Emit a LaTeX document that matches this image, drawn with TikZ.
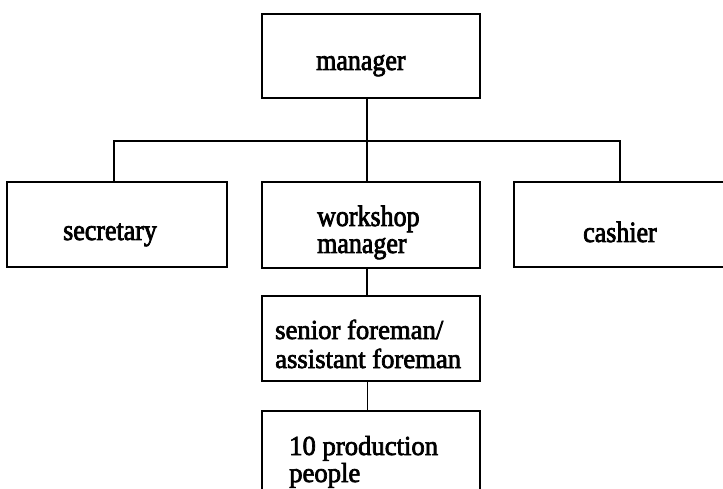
\documentclass[tikz,border=0pt]{standalone}
\usepackage{fontspec}
\setmainfont{Liberation Serif}[FakeBold=2.5]
\newfontfamily\upperfont{Liberation Serif}[FakeBold=2.5, FakeStretch=0.88]
\newfontfamily\lowerfont{Liberation Serif}[FakeBold=2.5, FakeStretch=0.97]
\begin{document}
\begin{tikzpicture}[x=1pt,y=-1pt,
  box/.style={draw, line width=1.4pt, inner sep=0pt, minimum width=218pt},
  lbl/.style={anchor=base west, inner sep=0pt, font=\upperfont\fontsize{29.5}{29.5}\selectfont},
  lbllow/.style={anchor=base west, inner sep=0pt, font=\lowerfont\fontsize{27.5}{27.5}\selectfont},
  link/.style={line width=1.4pt}]
\clip (0,0) rectangle (723,489);
\fill[white] (0,0) rectangle (723,489);

% boxes
\node[box, minimum height=84pt] (mgr) at (371,56) {};
\node[box, minimum width=220pt, minimum height=85pt] (sec) at (117,224.5) {};
\node[box, minimum height=86pt] (wsm) at (371,225) {};
\node[box, minimum width=221pt, minimum height=85pt] (cash) at (624.5,224.5) {};
\node[box, minimum height=85pt] (sf) at (371,338.5) {};
\node[box, minimum height=90pt] (prod) at (371,456) {};

% labels
\node[lbl] (tmgr) at (316,70) {manager};
\node[lbl] (tsec) at (63,240) {secretary};
\node[lbl] (twsm1) at (317,226) {workshop};
\node[lbl] (twsm2) at (317,253) {manager};
\node[lbl] (tcash) at (583,242) {cashier};
\node[lbllow] (tsf1) at (275,339) {senior foreman/};
\node[lbllow] (tsf2) at (275,368) {assistant foreman};
\node[lbllow] (tprod1) at (289,455) {10 production};
\node[lbllow] (tprod2) at (289,482) {people};

% connectors
\coordinate (bus) at (367,141);
\draw[link] ([xshift=-4pt]mgr.south) -- ([xshift=-4pt]wsm.north);
\draw[link] ([xshift=-3pt]sec.north) |- (bus) -| ([xshift=-4.5pt]cash.north);
\draw[link] ([xshift=-4pt]wsm.south) -- ([xshift=-4pt]sf.north);
\draw[link] ([xshift=-3.5pt]sf.south) -- ([xshift=-3.5pt]prod.north);
\end{tikzpicture}
\end{document}
